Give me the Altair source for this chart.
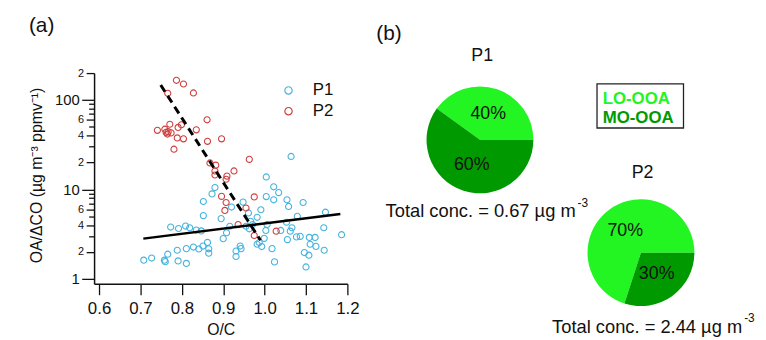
import math
import pandas as pd
import altair as alt

# ---------------- data ----------------
p1_oc = [0.708, 0.727, 0.758, 0.760, 0.766, 0.789, 0.791, 0.811, 0.811, 0.828,
         0.841, 0.851, 0.862, 0.865, 0.865, 0.773, 0.792, 0.809, 0.819, 0.835,
         0.847, 0.852, 0.852, 0.873, 0.880, 0.900, 0.908, 0.895, 0.920, 0.916,
         0.931, 0.931, 0.941, 0.943, 0.948, 0.955, 0.961, 0.966, 0.971, 0.963,
         0.982, 0.991, 0.982, 0.987, 0.993, 0.999, 1.003, 1.006, 1.004, 1.004,
         1.018, 1.022, 1.022, 1.034, 1.024, 1.039, 1.053, 1.054, 1.058, 1.062,
         1.055, 1.066, 1.064, 1.079, 1.077, 1.086, 1.093, 1.096, 1.100, 1.107,
         1.108, 1.110, 1.122, 1.124, 1.143, 1.144, 1.147, 1.186]
p1_ratio = [1.62, 1.71, 1.62, 1.56, 1.89, 2.09, 1.59, 1.49, 2.18, 2.27,
            2.16, 2.33, 2.56, 2.17, 1.94, 3.80, 3.66, 3.90, 3.73, 3.51,
            3.44, 5.10, 7.33, 8.92, 10.5, 2.82, 3.28, 4.72, 6.36, 3.88,
            2.05, 1.78, 2.33, 2.18, 7.22, 3.88, 5.46, 4.41, 4.05, 3.63,
            4.88, 5.93, 2.44, 2.55, 2.30, 2.84, 3.48, 4.05, 13.8, 8.32,
            2.18, 10.7, 7.66, 9.22, 1.55, 3.48, 4.30, 7.66, 6.46, 3.42,
            2.75, 3.73, 23.4, 5.01, 2.95, 2.99, 7.15, 1.97, 1.36, 1.84,
            2.91, 2.44, 2.91, 2.31, 3.73, 2.09, 5.57, 3.12]

p2_oc = [0.787, 0.804, 0.766, 0.828, 0.861, 0.741, 0.759, 0.762, 0.767, 0.771,
         0.774, 0.765, 0.791, 0.799, 0.835, 0.789, 0.804, 0.781, 0.862, 0.896,
         0.963, 0.868, 0.882, 0.880, 0.880, 0.909, 0.907, 0.926, 0.896, 0.975,
         0.907, 0.904, 0.955, 0.936, 0.975, 1.028]
p2_ratio = [166, 151, 119, 120, 60.1, 45.8, 47.2, 43.5, 44.3, 53.6,
            42.9, 41.6, 49.4, 52.9, 46.4, 37.7, 36.8, 28.2, 34.5, 36.8,
            21.7, 19.8, 18.7, 16.1, 14.5, 14.1, 13.0, 16.1, 8.37, 8.26,
            7.15, 5.83, 6.20, 4.05, 3.06, 3.42]

fit_p1_oc = [0.707, 1.183]
fit_p1_ratio = [2.82, 5.32]
fit_p2_oc = [0.749, 0.990]
fit_p2_ratio = [147.0, 2.70]

pie_periods = ["P1", "P1", "P2", "P2"]
pie_components = ["LO-OOA", "MO-OOA", "LO-OOA", "MO-OOA"]
pie_shares = [40, 60, 70, 30]
pie_totals = ["0.67", "2.44"]

x_ticks = [0.6, 0.7, 0.8, 0.9, 1.0, 1.1, 1.2]
y_ticks = [1, 2, 3, 4, 5, 6, 7, 8, 9, 10, 20, 30, 40, 50, 60, 70, 80, 90, 100, 200]

# ---------------- styling ----------------
FONT = "Liberation Sans"
BLUE = "#45b3de"
RED = "#cf3f3f"
LIGHT = "#22f522"
DARK = "#009a00"
INK = "#111111"

scatter_df = pd.DataFrame({
    "oc": p1_oc + p2_oc,
    "ratio": p1_ratio + p2_ratio,
    "period": ["P1"] * len(p1_oc) + ["P2"] * len(p2_oc),
})
fit1_df = pd.DataFrame({"oc": fit_p1_oc, "ratio": fit_p1_ratio})
fit2_df = pd.DataFrame({"oc": fit_p2_oc, "ratio": fit_p2_ratio})
pie_df = pd.DataFrame({
    "period": pie_periods,
    "component": pie_components,
    "share": pie_shares,
    "label": [f"{s}%" for s in pie_shares],
})

major_test = "indexof([1, 10, 100], datum.value) >= 0"
mid_test = "indexof([2, 4, 6, 20, 40, 60, 200], datum.value) >= 0"

x_scale = alt.Scale(domain=[0.588, 1.2], nice=False, zero=False)
y_scale = alt.Scale(type="log", domain=[0.881, 200], nice=False)

x_axis = alt.Axis(values=x_ticks, format=".1f", tickSize=11, tickWidth=1.3,
                  domainWidth=1.5, labelFontSize=17, labelPadding=6,
                  labelFlush=False, labelOverlap=False,
                  title="O/C", titleFontSize=16, titleFontWeight="normal",
                  titleY=46, titleBaseline="middle")
y_axis = alt.Axis(values=y_ticks,
                  labelExpr=f"{major_test} ? ('' + datum.value) : ({mid_test} ? substring('' + datum.value, 0, 1) : '')",
                  tickSize={"condition": [{"test": major_test, "value": 12.5},
                                          {"test": mid_test, "value": 8}],
                            "value": 5.5},
                  labelFontSize={"condition": {"test": major_test, "value": 15}, "value": 11},
                  tickWidth=1.3, domainWidth=1.5, labelPadding=2.5,
                  labelOverlap=False, labelFlush=False,
                  title="OA/ΔCO (µg m⁻³ ppmv⁻¹)", titleFontSize=16,
                  titleFontWeight="normal", titleAngle=270, titleX=-58, titleY=103,
                  titleBaseline="middle", titleAlign="center")

scatter = alt.Chart(scatter_df).mark_point(filled=False, size=38, strokeWidth=1.1, opacity=1).encode(
    x=alt.X("oc:Q", scale=x_scale, axis=x_axis),
    y=alt.Y("ratio:Q", scale=y_scale, axis=y_axis),
    color=alt.Color("period:N",
                    scale=alt.Scale(domain=["P1", "P2"], range=[BLUE, RED]),
                    legend=alt.Legend(title=None, orient="none", legendX=188, legendY=9,
                                      symbolType="circle", symbolSize=55, symbolStrokeWidth=1.2,
                                      labelFontSize=17, labelFont=FONT, labelOffset=16,
                                      rowPadding=3, padding=0, labelColor=INK)),
)

fit1 = alt.Chart(fit1_df).mark_line(color="black", strokeWidth=2.4).encode(
    x=alt.X("oc:Q", scale=x_scale), y=alt.Y("ratio:Q", scale=y_scale))
fit2 = alt.Chart(fit2_df).mark_line(color="black", strokeWidth=3, strokeDash=[8, 5]).encode(
    x=alt.X("oc:Q", scale=x_scale), y=alt.Y("ratio:Q", scale=y_scale))

theta_scale = alt.Scale(range=[math.pi / 2, math.pi / 2 + 2 * math.pi])
pie_centers = {"P1": (390, 67.5), "P2": (552.7, 181.5)}


def pie_layers(period):
    cx, cy = pie_centers[period]
    base = alt.Chart(pie_df).transform_filter(alt.datum.period == period)
    arc = base.mark_arc(radius=54).encode(
        theta=alt.Theta("share:Q", stack=True, scale=theta_scale),
        color=alt.Color("component:N",
                        scale=alt.Scale(domain=["LO-OOA", "MO-OOA"], range=[LIGHT, DARK]),
                        legend=None),
        order=alt.Order("component:N", sort="descending"),
        x=alt.value(cx), y=alt.value(cy),
    )
    lab = base.mark_text(radius=27, fontSize=18, font=FONT, color=INK).encode(
        theta=alt.Theta("share:Q", stack=True, scale=theta_scale),
        order=alt.Order("component:N", sort="descending"),
        text="label:N",
        x=alt.value(cx), y=alt.value(cy),
    )
    return [arc, lab]


def text_layer(txt, x, y, size, align="center", baseline="middle", weight="normal", color=INK):
    return alt.Chart(pd.DataFrame({"t": [txt]})).mark_text(
        fontSize=size, font=FONT, align=align, baseline=baseline,
        fontWeight=weight, color=color).encode(
        text="t:N", x=alt.value(x), y=alt.value(y))


texts = [
    text_layer("(a)", -53, -47.8, 21),
    text_layer("(b)", 298, -39.8, 21),
    text_layer("P1", 392.3, -17.5, 18),
    text_layer("P2", 554.3, 100.9, 18),
    text_layer(f"Total conc. = {pie_totals[0]} µg m", 486.7, 139.9, 18.5, align="right"),
    text_layer("-3", 488.5, 130.9, 12, align="left"),
    text_layer(f"Total conc. = {pie_totals[1]} µg m", 655, 257, 18.5, align="right"),
    text_layer("-3", 657, 247.7, 12, align="left"),
    text_layer("LO-OOA", 514, 25.9, 17, align="left", weight="bold", color=LIGHT),
    text_layer("MO-OOA", 514, 45.5, 17, align="left", weight="bold", color=DARK),
]

box = alt.Chart(pd.DataFrame({"a": [0]})).mark_rect(
    fill="transparent", stroke="#222222", strokeWidth=1.3).encode(
    x=alt.value(508.3), x2=alt.value(595.7), y=alt.value(10.9), y2=alt.value(55.5))

chart = alt.layer(
    scatter, fit1, fit2, *pie_layers("P1"), *pie_layers("P2"), box, *texts
).resolve_scale(color="independent").properties(
    width=256, height=213,
    padding={"left": 87, "top": 64, "right": 415, "bottom": 55},
    autosize=alt.AutoSizeParams(type="none"),
).configure(font=FONT).configure_view(stroke=None).configure_axis(
    grid=False, domainColor=INK, tickColor=INK, labelColor=INK, titleColor=INK,
    labelFont=FONT, titleFont=FONT,
)

chart.save("out.html", embed_options={"renderer": "svg", "actions": False})
